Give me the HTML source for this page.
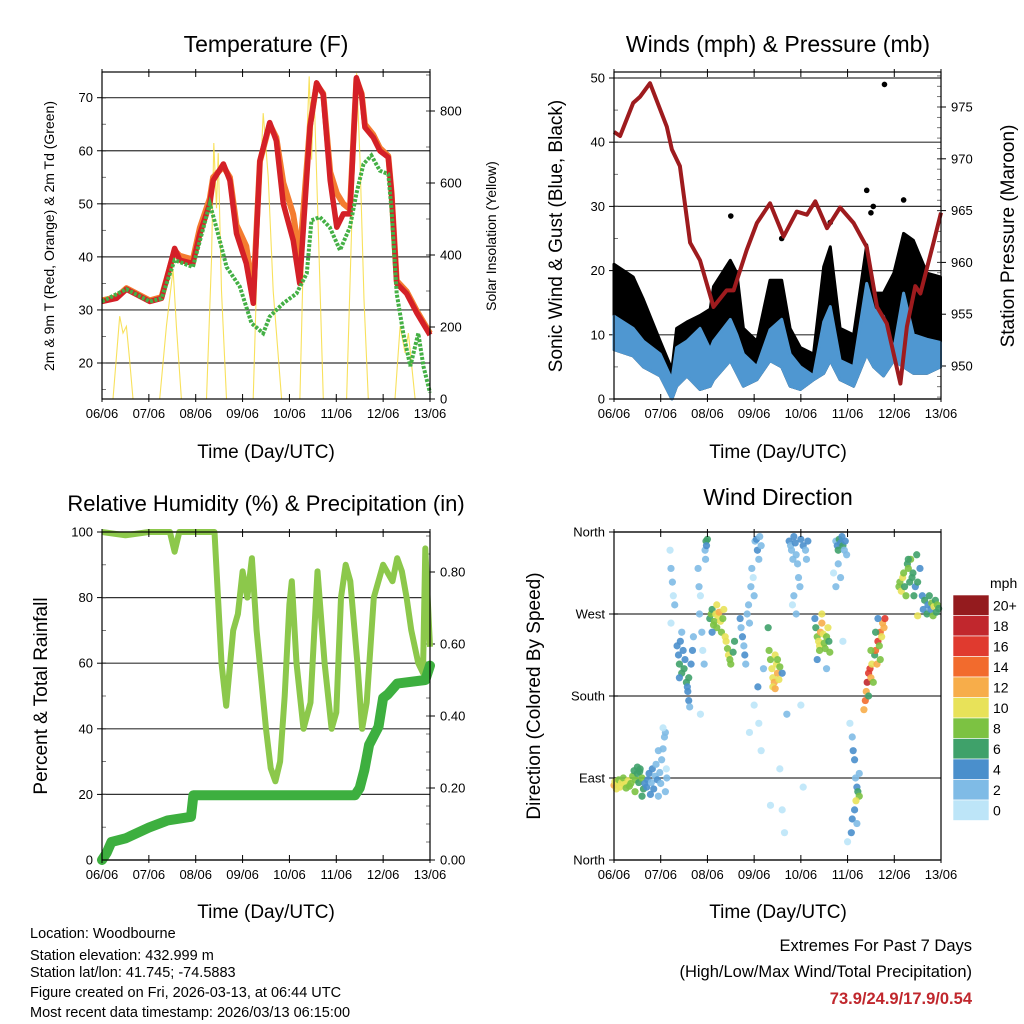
<!DOCTYPE html>
<html><head><meta charset="utf-8"><style>
html,body{margin:0;padding:0;background:#fff;}
svg{display:block;font-family:"Liberation Sans",Arial,sans-serif;}
</style></head><body>
<svg id="root" width="1024" height="1024" viewBox="0 0 1024 1024" xmlns="http://www.w3.org/2000/svg">
<rect width="1024" height="1024" fill="#fff"/>
<g id="layer"></g>
<g font-size="14.5" fill="#000">
<text x="30" y="938">Location: Woodbourne</text>
<text x="30" y="960">Station elevation: 432.999 m</text>
<text x="30" y="977">Station lat/lon: 41.745; -74.5883</text>
<text x="30" y="997">Figure created on Fri, 2026-03-13, at 06:44 UTC</text>
<text x="30" y="1017">Most recent data timestamp: 2026/03/13 06:15:00</text>
</g>
<g text-anchor="end">
<text x="972" y="951" font-size="16.5">Extremes For Past 7 Days</text>
<text x="972" y="977" font-size="16.5">(High/Low/Max Wind/Total Precipitation)</text>
<text x="972" y="1004" font-size="16.5" font-weight="bold" fill="#c0272d">73.9/24.9/17.9/0.54</text>
</g>
</svg>
<script>
// ---------- DATA ----------
const dayLabels=["06/06","07/06","08/06","09/06","10/06","11/06","12/06","13/06"];
// Temperature (F)
const tDays=[0,0.31,0.52,1.02,1.27,1.55,1.66,1.94,2.09,2.3,2.37,2.59,2.73,2.87,3.08,3.23,3.37,3.58,3.72,3.87,4.08,4.22,4.44,4.58,4.72,4.87,5.01,5.15,5.29,5.43,5.54,5.61,5.79,5.93,6.11,6.18,6.29,6.5,6.72,7.0];
const temp2m=[31.6,32.2,33.9,31.6,32.2,41.6,39.4,38.75,44.4,50,54.4,57.5,54.4,44.4,38.75,31.25,58.1,65.3,61.9,50,43.1,35,64.4,72.8,70.6,54.4,45.6,48.1,48.1,73.75,70.6,64.4,62.5,60,58.75,51.9,35,33.1,29.4,25.3];
const temp9m=[31.8,32.4,34.1,31.8,32.4,41.2,40.2,39.5,45.5,51,55,57,55,46,42,33,58,65,62.5,54,48,40,64.8,72.5,70.8,56,52,50,49,73.5,70.8,65,63,60.5,59,52,35.5,33.5,29.8,25.6];
const tdDays=[0,0.52,1.02,1.27,1.55,1.94,2.3,2.44,2.66,2.94,3.19,3.44,3.58,3.87,4.15,4.37,4.47,4.65,4.86,5.08,5.29,5.43,5.58,5.75,5.93,6.11,6.18,6.29,6.43,6.58,6.75,6.86,7.0];
const dewpoint=[31.6,33.9,31.6,32.2,39.4,38.1,50,45.6,38.1,34.4,27.5,25.6,28.75,31.25,33.1,36.9,46.9,47.5,45.6,41.25,45.6,51.9,57.5,59.1,56.25,55.6,48.75,33.1,25.6,19.4,25.6,19.4,14.4];
const solarDays=[0,0.235,0.377,0.449,0.52,0.59,0.662,1.232,1.375,1.517,1.588,1.695,2.23,2.336,2.386,2.443,2.479,2.55,2.657,3.226,3.333,3.44,3.547,3.654,3.832,4.224,4.331,4.423,4.473,4.523,4.615,4.722,5.221,5.328,5.434,5.506,5.591,5.684,6.254,6.361,6.468,6.54,6.681,7.0];
const solar=[0,0,230,183,202,109,0,0,202,360,202,0,0,387,711,530,683,300,0,0,480,794,618,300,0,0,572,896,665,868,480,0,0,480,905,665,276,0,0,202,128,183,0,0];
// Winds & pressure
const wDays=[0,0.41,0.63,0.99,1.24,1.34,1.56,1.84,2.06,2.13,2.49,2.63,2.77,3.06,3.34,3.59,3.77,3.99,4.27,4.49,4.63,4.84,5.13,5.41,5.56,5.77,5.99,6.2,6.41,6.7,6.99];
const gustHi=[21,19,15.5,9,4.6,11,12,13,14,17.5,21.6,19.6,11,9,18.5,18.5,11,8,7,20.6,23.7,11,10,24,16.5,16.5,19.6,25.8,24.7,19.6,19];
const windHi=[12.9,11,9,7,3,8,9,11,7.7,9,12.4,10,7,5,10.8,12.4,7,5,3.6,12,14.4,6,5,18,14,12.9,7.7,16.5,10,9.3,8.8];
const windLo=[7.7,6.7,5,3.6,0,2,3.6,1.5,2,3,6,4,2,3,6,5,2,1.5,3,4,6,3,2,7,5,3.6,6,5,4,4,5];
const outlierDays=[5.79,2.5,3.59,5.41,5.5,6.2,4.63,5.55];
const outlierGust=[49,28.5,25,32.5,29,31,27.5,30];
const pDays=[0,0.13,0.41,0.56,0.77,1.13,1.24,1.41,1.63,1.84,2.13,2.41,2.56,2.84,3.06,3.34,3.63,3.91,4.13,4.31,4.56,4.84,5.13,5.41,5.63,5.84,6.13,6.27,6.45,6.56,6.84,7.0];
const pressure=[972.6,972.2,975.4,976,977.3,973.1,970.9,969.3,961.9,960.2,955.7,957.3,957.3,961.2,963.8,965.7,962.5,964.9,964.6,965.9,963.3,965.3,963.8,961.5,955.7,954.1,948.3,953.8,957.7,957,961.9,964.8];
// RH & precip
const rhDays=[0,0.5,1.0,1.45,1.55,1.65,2.0,2.4,2.55,2.65,2.8,2.9,3.0,3.1,3.2,3.3,3.5,3.6,3.7,3.8,3.9,4.0,4.05,4.15,4.3,4.45,4.6,4.75,4.9,5.0,5.1,5.2,5.3,5.45,5.55,5.65,5.8,6.0,6.2,6.3,6.4,6.5,6.6,6.75,6.85,6.9,7.0];
const rh=[100,99,100,100,94,100,100,100,60,47,70,75,88,80,92,70,40,28,24,30,50,78,85,60,40,48,88,60,40,45,80,90,85,60,40,48,80,90,85,92,88,80,70,60,57,95,65];
const prDays=[0,0.1,0.2,0.5,1.0,1.4,1.9,1.95,2.0,5.4,5.5,5.6,5.7,5.9,6.0,6.1,6.3,6.9,7.0];
const precip=[0,0.02,0.05,0.06,0.09,0.11,0.12,0.18,0.18,0.18,0.2,0.25,0.32,0.37,0.45,0.46,0.49,0.5,0.54];
// Wind direction (deg) and speed (mph)
const wdDay=[0,0.02,0.05,0.08,0.1,0.13,0.16,0.2,0.23,0.26,0.3,0.33,0.36,0.4,0.43,0.46,0.5,0.53,0.56,0.6,0.63,0.66,0.5,0.55,0.45,0.6,
0.7,0.72,0.75,0.78,0.8,0.82,0.85,0.88,0.9,0.93,0.95,0.98,1.0,1.02,1.05,1.08,1.1,1.12,1.1,1.05,0.95,1.13,
1.2,1.22,1.25,1.27,1.3,1.22,1.35,1.38,1.4,1.42,1.45,1.48,1.5,1.52,1.55,1.58,1.6,1.62,1.65,1.68,1.7,1.6,1.57,1.45,1.4,
1.8,1.82,1.85,1.83,1.88,1.9,1.93,1.95,1.97,2.0,1.98,1.96,1.85,
2.05,2.08,2.1,2.13,2.15,2.18,2.2,2.23,2.25,2.28,2.3,2.33,2.35,2.38,2.4,2.43,2.45,2.48,2.5,2.55,2.58,2.2,2.1,
2.7,2.72,2.75,2.78,2.8,2.82,2.85,2.88,2.9,2.93,2.95,2.98,3.0,3.02,3.05,3.07,3.1,3.12,3.15,3.08,3.0,2.9,3.1,3.15,3.2,
3.32,3.35,3.38,3.4,3.43,3.45,3.48,3.5,3.53,3.55,3.4,3.45,3.5,3.3,3.6,3.7,3.55,3.35,3.6,3.65,
3.75,3.78,3.8,3.83,3.85,3.88,3.9,3.93,3.95,3.98,4.0,4.05,4.1,4.12,4.15,3.85,3.9,3.82,4.0,4.05,
4.3,4.32,4.35,4.38,4.4,4.42,4.45,4.48,4.5,4.52,4.55,4.58,4.6,4.62,4.35,4.45,4.4,4.55,
4.75,4.78,4.8,4.82,4.85,4.88,4.9,4.93,4.95,4.98,4.8,4.85,4.7,4.75,4.9,
5.05,5.1,5.12,5.15,5.17,5.2,5.22,5.25,5.18,5.15,5.1,5.08,5.2,5.25,5.0,
5.35,5.38,5.4,5.42,5.45,5.48,5.5,5.52,5.55,5.58,5.6,5.63,5.65,5.68,5.7,5.73,5.75,5.78,5.8,5.45,5.5,5.6,5.65,5.7,
6.1,6.12,6.15,6.18,6.2,6.22,6.25,6.28,6.3,6.33,6.35,6.38,6.4,6.42,6.45,6.48,6.5,6.55,6.6,6.62,6.65,6.7,6.72,6.75,6.78,6.8,6.83,6.85,6.88,6.9,6.92,6.95,6.5,6.3];
const wdDir=[82,86,78,84,88,80,85,90,83,79,87,81,84,92,98,88,95,85,100,90,78,84,102,97,75,70,
80,88,95,72,85,100,78,92,105,88,70,96,84,110,122,135,140,100,75,145,120,90,
340,320,305,290,280,260,235,225,215,240,205,230,210,220,195,185,175,168,215,230,245,200,190,250,200,
320,300,290,270,250,230,215,340,350,352,345,330,160,
265,270,275,258,262,270,255,268,272,262,250,265,275,245,240,232,225,220,215,228,240,280,250,
265,255,245,235,225,215,270,280,260,300,320,310,290,350,352,340,330,355,345,190,170,140,150,120,210,
230,220,210,200,195,225,215,205,198,212,190,188,220,255,205,160,100,60,55,30,
350,345,340,330,355,348,335,325,310,300,352,345,340,330,350,290,270,280,170,80,
265,255,245,240,235,250,260,248,238,232,245,255,240,228,220,270,230,210,
350,345,340,352,348,355,345,340,350,335,325,310,315,300,240,
150,135,120,110,90,80,75,70,65,55,45,30,40,95,20,
165,175,185,195,205,210,200,215,195,225,230,215,240,235,250,245,260,255,265,180,230,250,265,220,
300,305,295,310,315,300,290,325,320,305,330,310,315,290,300,335,305,320,290,275,285,270,280,290,275,282,268,278,285,272,280,276,268,330];
const wdSpd=[12,11,10,10,9,10,10,9,10,9,10,8,8,8,7,8,6,7,6,8,6,5,6,7,8,6,
4,5,4,4,3,4,4,3,3,4,3,3,2,2,2,2,2,1,2,1,2,3,
1,2,2,1,2,1,4,5,6,4,6,4,7,5,6,4,4,3,5,4,3,6,5,2,5,
2,2,1,2,2,1,2,3,6,6,4,3,1,
7,8,6,8,9,10,8,11,12,10,9,8,11,11,10,9,10,9,8,7,6,10,5,
4,3,4,3,4,2,3,2,2,2,2,1,2,3,4,4,3,2,2,4,1,1,1,1,3,
8,9,10,11,12,10,11,12,10,8,10,12,9,6,5,2,1,1,1,1,
4,3,3,2,4,5,3,2,2,2,4,4,3,2,4,2,2,1,1,1,
5,7,8,10,11,13,12,10,9,8,9,10,7,8,4,11,8,3,
3,5,6,6,5,4,6,3,4,3,2,2,1,2,1,
1,3,4,4,3,4,6,8,10,5,4,4,3,2,1,
12,14,13,18,17,16,12,10,8,6,14,12,16,8,14,10,12,13,17,6,8,6,5,9,
9,8,10,11,8,7,9,6,8,7,8,6,7,6,5,7,6,5,4,4,6,6,5,7,4,8,8,10,6,7,8,6,10,7];
const cbLabels=["20+","18","16","14","12","10","8","6","4","2","0"];
const cbColors=["#941b1e","#c1272d","#e03a2f","#f26b2d","#f7ad4a","#e8e259","#7cc242","#3fa16a","#4a8fcc","#7fbbe6","#bde5f8"];

// ---------- HELPERS ----------
const NS="http://www.w3.org/2000/svg";
const layer=document.getElementById('layer');
function mk(tag,attrs,parent){const e=document.createElementNS(NS,tag);for(const k in attrs)e.setAttribute(k,attrs[k]);(parent||layer).appendChild(e);return e;}
function txt(s,attrs,parent){const e=mk('text',attrs,parent);e.textContent=s;return e;}
function lineScale(d0,d1,p0,p1){return v=>p0+(v-d0)*(p1-p0)/(d1-d0);}
function pathOf(xs,ys,sx,sy){return xs.map((x,i)=>(i?'L':'M')+sx(x).toFixed(1)+','+sy(ys[i]).toFixed(1)).join('');}

function frame(g,L,R,T,B,sx){
  dayLabels.forEach((lab,i)=>{
    const x=sx(i);
    const t=mk('line',{x1:x,y1:B-5,x2:x,y2:B+3,stroke:'#000','stroke-width':1},g);
    
    
    mk('line',{x1:x,y1:T-3,x2:x,y2:T+5,stroke:'#000','stroke-width':1},g);
    const l=txt(lab,{x:x,y:B+19,'font-size':13,'text-anchor':'middle'},g);
    
    
  });
  const r=mk('rect',{x:L,y:T,width:R-L,height:B-T,fill:'none',stroke:'#000','stroke-width':1.2},g);
  
  
}
function yTicks(g,vals,labels,sy,x,side,grid,L,R){
  vals.forEach((v,i)=>{
    const y=sy(v);
    if(grid){const gl=mk('line',{x1:L,y1:y,x2:R,y2:y,stroke:'#333','stroke-width':1.2},g);
      
      }
    mk('line',{x1:side<0?x-5:x-4,y1:y,x2:side<0?x+4:x+5,y2:y,stroke:'#000'},g);
    if(labels[i]!==''){const l=txt(labels[i],{x:side<0?x-9:x+10,y:y+4.5,'font-size':13,'text-anchor':side<0?'end':'start'},g);
      
      }
  });
}
function minor(g,from,to,step,sy,x,side){
  for(let v=from;v<=to+1e-9;v+=step){const y=sy(v);mk('line',{x1:x,y1:y,x2:x+(side<0?4:-4),y2:y,stroke:'#555','stroke-width':0.8},g);}
}
function title(s,x,y,size,rot,g,name){
  const a={x:x,y:y,'font-size':size,'text-anchor':'middle'};
  if(rot)a.transform='rotate(-90 '+x+' '+y+')';
  const t=txt(s,a,g);
  
  
}

// ---------- PANEL 1: Temperature ----------
(function(){
  const g=mk('g',{});
  
  
  const L=102,R=430,T=72,B=399;
  const sx=lineScale(0,7,L,R), sy=lineScale(20,70,363,97.7), ss=lineScale(0,800,399,111);
  yTicks(g,[20,30,40,50,60,70],['20','30','40','50','60','70'],sy,L,-1,true,L,R);
  minor(g,15,74,5,sy,L,-1);
  yTicks(g,[0,200,400,600,800],['0','200','400','600','800'],ss,R,1,false);
  minor(g,0,900,100,ss,R,1);
  const sol=mk('path',{d:pathOf(solarDays,solar,sx,ss),fill:'none',stroke:'#f7dc3f','stroke-width':1.1,'stroke-opacity':0.85},g);
  
  
  const o=mk('path',{d:pathOf(tDays,temp9m,sx,sy),fill:'none',stroke:'#f47c30','stroke-width':6,'stroke-linejoin':'round'},g);
  
  
  const r=mk('path',{d:pathOf(tDays,temp2m,sx,sy),fill:'none',stroke:'#d42027','stroke-width':5.5,'stroke-linejoin':'round'},g);
  
  
  const d=mk('path',{d:pathOf(tdDays,dewpoint,sx,sy),fill:'none',stroke:'#44b045','stroke-width':4,'stroke-dasharray':'3 1.5'},g);
  
  
  frame(g,L,R,T,B,sx);
  title('Temperature (F)',266,52,23,false,g,'temperature-title');
  title('Time (Day/UTC)',266,458,19,false,g,'temperature-x-title');
  title('2m & 9m T (Red, Orange) & 2m Td (Green)',54,236,14,true,g,'temperature-y-title');
  title('Solar Insolation (Yellow)',496,236,14,true,g,'solar-y-title');
})();

// ---------- PANEL 2: Winds ----------
(function(){
  const g=mk('g',{});
  
  
  const L=614,R=941,T=72,B=399;
  const sx=lineScale(0,7,L,R), sy=lineScale(0,50,399,78), sp=lineScale(950,975,366,107);
  yTicks(g,[0,10,20,30,40,50],['0','10','20','30','40','50'],sy,L,-1,true,L,R);
  minor(g,0,50,5,sy,L,-1);
  yTicks(g,[950,955,960,965,970,975],['950','955','960','965','970','975'],sp,R,1,false);
  minor(g,947,978,1,sp,R,1);
  const gp=pathOf(wDays,gustHi,sx,sy)+pathOf(wDays.slice().reverse(),windLo.slice().reverse(),sx,sy).replace('M','L')+'Z';
  const gb=mk('path',{d:gp,fill:'#000',stroke:'#000','stroke-width':3,'stroke-linejoin':'round'},g);
  
  
  const wp=pathOf(wDays,windHi,sx,sy)+pathOf(wDays.slice().reverse(),windLo.slice().reverse(),sx,sy).replace('M','L')+'Z';
  const wb=mk('path',{d:wp,fill:'#4f97d1',stroke:'#4f97d1','stroke-width':3,'stroke-linejoin':'round'},g);
  
  
  outlierDays.forEach((d,i)=>{
    const c=mk('circle',{cx:sx(d),cy:sy(outlierGust[i]),r:2.8,fill:'#000'},g);
    
    
  });
  const p=mk('path',{d:pathOf(pDays,pressure,sx,sp),fill:'none',stroke:'#9e1b1e','stroke-width':4,'stroke-linejoin':'round'},g);
  
  
  frame(g,L,R,T,B,sx);
  title('Winds (mph) & Pressure (mb)',778,52,23,false,g,'winds-title');
  title('Time (Day/UTC)',778,458,19,false,g,'winds-x-title');
  title('Sonic Wind & Gust (Blue, Black)',562,236,19,true,g,'winds-y-title');
  title('Station Pressure (Maroon)',1014,236,19,true,g,'pressure-y-title');
})();

// ---------- PANEL 3: RH & Precip ----------
(function(){
  const g=mk('g',{});
  
  
  const L=102,R=430,T=532,B=860;
  const sx=lineScale(0,7,L,R), sy=lineScale(0,100,860,532), sr=lineScale(0,0.2,860,788);
  yTicks(g,[0,20,40,60,80,100],['0','20','40','60','80','100'],sy,L,-1,true,L,R);
  minor(g,0,100,10,sy,L,-1);
  yTicks(g,[0,0.2,0.4,0.6,0.8],['0.00','0.20','0.40','0.60','0.80'],sr,R,1,false);
  minor(g,0,0.9,0.05,sr,R,1);
  const h=mk('path',{d:pathOf(rhDays,rh,sx,sy),fill:'none',stroke:'#8cc84b','stroke-width':6,'stroke-linejoin':'round'},g);
  
  
  const pr=mk('path',{d:pathOf(prDays,precip,sx,sr),fill:'none',stroke:'#3daf3f','stroke-width':10,'stroke-linejoin':'round','stroke-linecap':'round'},g);
  
  
  frame(g,L,R,T,B,sx);
  title('Relative Humidity (%) & Precipitation (in)',266,511,22,false,g,'humidity-title');
  title('Time (Day/UTC)',266,918,19,false,g,'humidity-x-title');
  title('Percent & Total Rainfall',47,696,19,true,g,'humidity-y-title');
})();

// ---------- PANEL 4: Wind Direction ----------
(function(){
  const g=mk('g',{});
  
  
  const L=614,R=941,T=532,B=860;
  const sx=lineScale(0,7,L,R), sy=lineScale(0,360,860,532);
  yTicks(g,[0,90,180,270,360],['North','East','South','West','North'],sy,L,-1,true,L,R);
  function col(s){let i=Math.floor(s/2);if(i>10)i=10;return cbColors[10-i];}
  wdDay.forEach((d,i)=>{
    const c=mk('circle',{cx:sx(d),cy:sy(wdDir[i]),r:3.6,fill:col(wdSpd[i]),'fill-opacity':0.9},g);
    
    
  });
  frame(g,L,R,T,B,sx);
  title('Wind Direction',778,505,23,false,g,'direction-title');
  title('Time (Day/UTC)',778,918,19,false,g,'direction-x-title');
  title('Direction (Colored By Speed)',540,696,19,true,g,'direction-y-title');
  const cb=mk('g',{},g);
  
  
  const h=20.5;
  cbColors.forEach((c,i)=>{
    const r=mk('rect',{x:953,y:595+i*h,width:36,height:h,fill:c,stroke:'#fff','stroke-width':0.6},cb);
    
    
    const t=txt(cbLabels[i],{x:993,y:595+i*h+h/2+5,'font-size':14},cb);
    
    
  });
  const u=txt('mph',{x:990,y:588,'font-size':14},cb);
  
  
})();
</script>
</body></html>
